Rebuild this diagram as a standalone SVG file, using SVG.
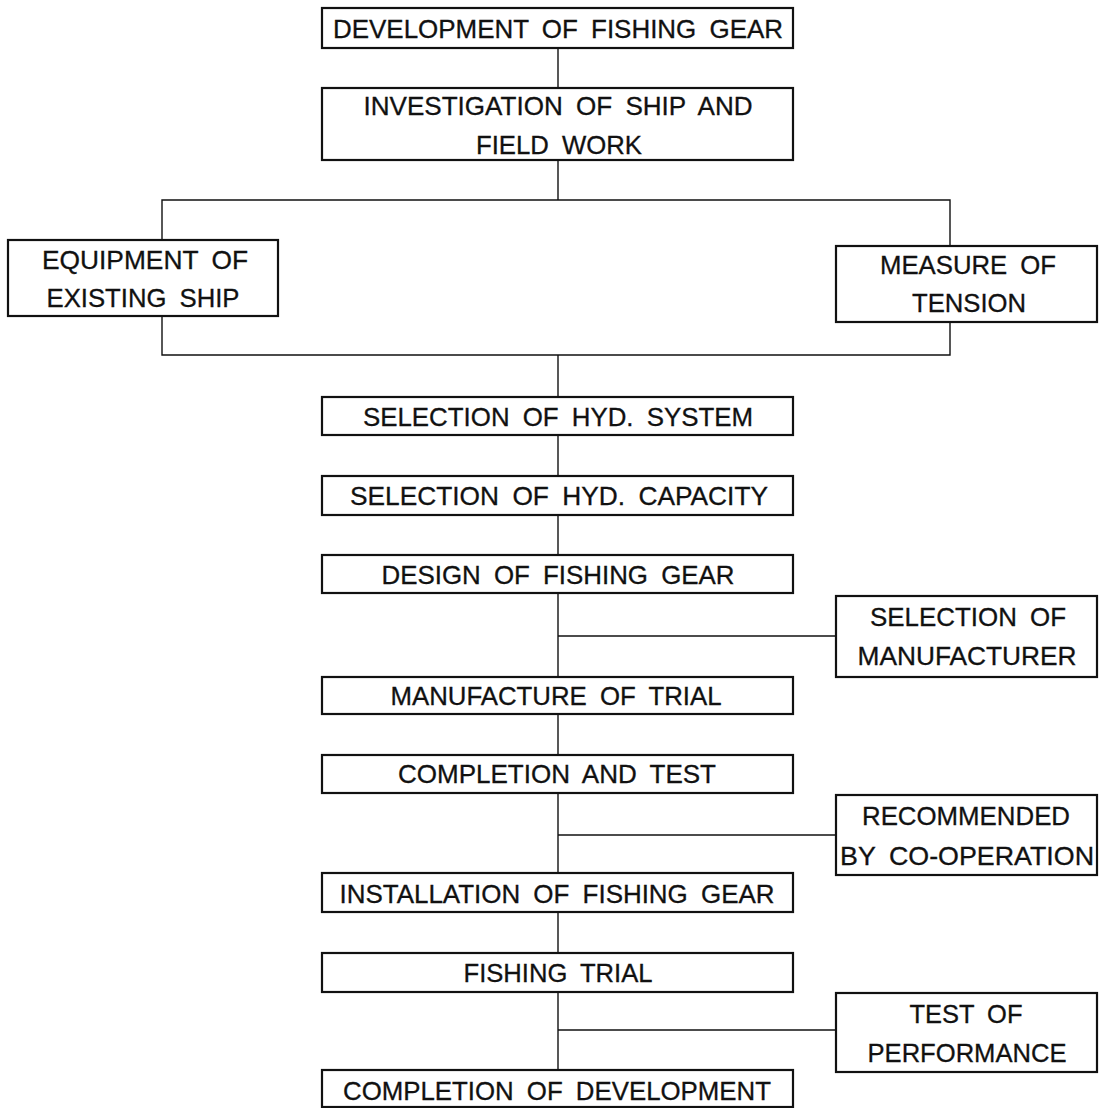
<svg xmlns="http://www.w3.org/2000/svg" width="1100" height="1108" viewBox="0 0 1100 1108">
<style>
.box{fill:#fff;stroke:#111;stroke-width:2.2}
.ln{fill:none;stroke:#111;stroke-width:1.4}
text{font-family:"Liberation Sans",Arial,sans-serif;font-size:26px;word-spacing:6px;fill:#111;stroke:#111;stroke-width:0.3;text-anchor:middle}
</style>
<rect width="1100" height="1108" fill="#fff"/>
<g id="connectors">
<line class="ln" x1="558" y1="48" x2="558" y2="88"/>
<line class="ln" x1="558" y1="160" x2="558" y2="200"/>
<polyline class="ln" points="162,240 162,200 950,200 950,246"/>
<polyline class="ln" points="162,316 162,355 950,355 950,322"/>
<line class="ln" x1="558" y1="355" x2="558" y2="397"/>
<line class="ln" x1="558" y1="435" x2="558" y2="476"/>
<line class="ln" x1="558" y1="515" x2="558" y2="555"/>
<line class="ln" x1="558" y1="593" x2="558" y2="677"/>
<line class="ln" x1="558" y1="636" x2="836" y2="636"/>
<line class="ln" x1="558" y1="714" x2="558" y2="755"/>
<line class="ln" x1="558" y1="793" x2="558" y2="873"/>
<line class="ln" x1="558" y1="835" x2="836" y2="835"/>
<line class="ln" x1="558" y1="912" x2="558" y2="953"/>
<line class="ln" x1="558" y1="992" x2="558" y2="1070"/>
<line class="ln" x1="558" y1="1030" x2="836" y2="1030"/>
</g>
<g id="n1"><rect class="box" x="322" y="8" width="471" height="40"/><text x="558" y="38" textLength="450" lengthAdjust="spacingAndGlyphs">DEVELOPMENT OF FISHING GEAR</text></g>
<g id="n2"><rect class="box" x="322" y="88" width="471" height="72"/><text x="558" y="115" textLength="389" lengthAdjust="spacingAndGlyphs">INVESTIGATION OF SHIP AND</text><text x="559" y="154" textLength="166" lengthAdjust="spacingAndGlyphs">FIELD WORK</text></g>
<g id="n3"><rect class="box" x="8" y="240" width="270" height="76"/><text x="145" y="269" textLength="206" lengthAdjust="spacingAndGlyphs">EQUIPMENT OF</text><text x="143" y="307" textLength="193" lengthAdjust="spacingAndGlyphs">EXISTING SHIP</text></g>
<g id="n4"><rect class="box" x="836" y="246" width="261" height="76"/><text x="968" y="274" textLength="176" lengthAdjust="spacingAndGlyphs">MEASURE OF</text><text x="969" y="312" textLength="114" lengthAdjust="spacingAndGlyphs">TENSION</text></g>
<g id="n5"><rect class="box" x="322" y="397" width="471" height="38"/><text x="558" y="426" textLength="390" lengthAdjust="spacingAndGlyphs">SELECTION OF HYD. SYSTEM</text></g>
<g id="n6"><rect class="box" x="322" y="476" width="471" height="39"/><text x="559" y="505" textLength="418" lengthAdjust="spacingAndGlyphs">SELECTION OF HYD. CAPACITY</text></g>
<g id="n7"><rect class="box" x="322" y="555" width="471" height="38"/><text x="558" y="584" textLength="353" lengthAdjust="spacingAndGlyphs">DESIGN OF FISHING GEAR</text></g>
<g id="n8"><rect class="box" x="836" y="596" width="261" height="81"/><text x="968" y="626" textLength="196" lengthAdjust="spacingAndGlyphs">SELECTION OF</text><text x="967" y="665" textLength="219" lengthAdjust="spacingAndGlyphs">MANUFACTURER</text></g>
<g id="n9"><rect class="box" x="322" y="677" width="471" height="37"/><text x="556" y="705" textLength="331" lengthAdjust="spacingAndGlyphs">MANUFACTURE OF TRIAL</text></g>
<g id="n10"><rect class="box" x="322" y="755" width="471" height="38"/><text x="557" y="783" textLength="318" lengthAdjust="spacingAndGlyphs">COMPLETION AND TEST</text></g>
<g id="n11"><rect class="box" x="836" y="795" width="261" height="80"/><text x="966" y="825" textLength="208" lengthAdjust="spacingAndGlyphs">RECOMMENDED</text><text x="967" y="865" textLength="254" lengthAdjust="spacingAndGlyphs">BY CO-OPERATION</text></g>
<g id="n12"><rect class="box" x="322" y="873" width="471" height="39"/><text x="557" y="903" textLength="435" lengthAdjust="spacingAndGlyphs">INSTALLATION OF FISHING GEAR</text></g>
<g id="n13"><rect class="box" x="322" y="953" width="471" height="39"/><text x="558" y="982" textLength="189" lengthAdjust="spacingAndGlyphs">FISHING TRIAL</text></g>
<g id="n14"><rect class="box" x="836" y="993" width="261" height="79"/><text x="966" y="1023" textLength="113" lengthAdjust="spacingAndGlyphs">TEST OF</text><text x="967" y="1062" textLength="199" lengthAdjust="spacingAndGlyphs">PERFORMANCE</text></g>
<g id="n15"><rect class="box" x="322" y="1070" width="471" height="37"/><text x="557" y="1100" textLength="428" lengthAdjust="spacingAndGlyphs">COMPLETION OF DEVELOPMENT</text></g>
</svg>
